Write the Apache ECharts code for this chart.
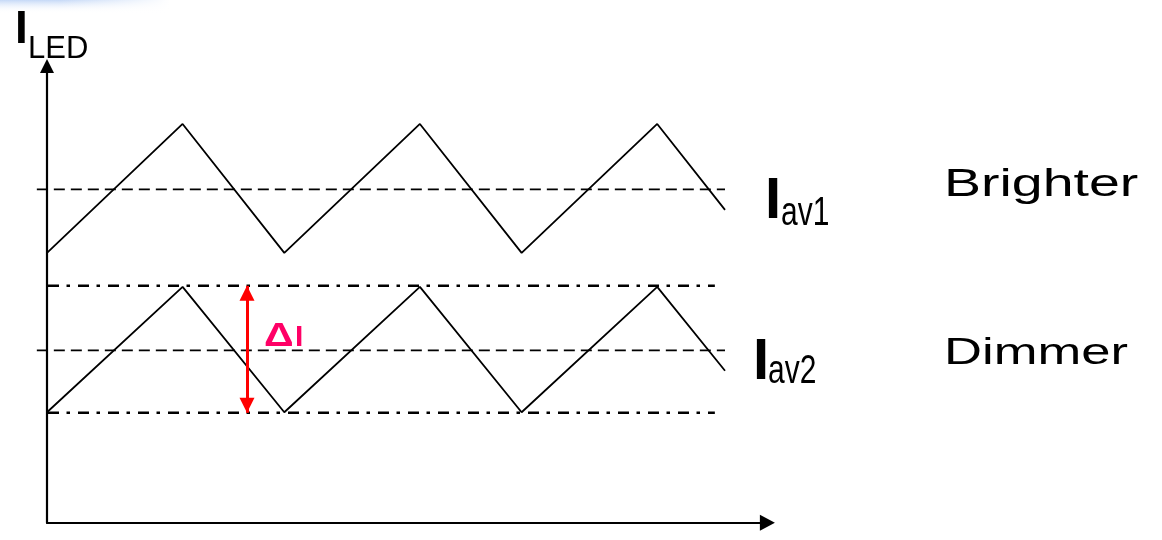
<!DOCTYPE html>
<html lang="en">
<head>
<meta charset="UTF-8">
<title>LED current ripple</title>
<script src="https://cdn.jsdelivr.net/npm/echarts@6/dist/echarts.min.js"></script>
<style>html,body{margin:0;padding:0;background:#fff;}</style>
</head>
<body>
<div id="chart" style="width:1162px;height:540px;"></div>
<script>
// time points of the triangle ripple (rise 4, fall 3)
var waveX = [0, 4, 7, 11, 14, 18, 20];
// LED current for the brighter and the dimmer case
var brightI = [27, 39.9, 27, 39.9, 27, 39.9, 31.3];
var dimI = [11.05, 23.6, 11.05, 23.6, 11.05, 23.6, 15.2];
// average currents Iav1 / Iav2 (dashed)
var avgLevels = [33.35, 17.25];
var avgSpan = [-0.3, 20];
// peak / valley of the dimmer ripple (dash-dot)
var rippleLevels = [23.7, 11];
var rippleSpan = [0.03, 19.7];
// x position of the delta I arrow
var deltaX = 5.9;

function pairs(xs, ys) {
  return xs.map(function (x, i) { return [x, ys[i]]; });
}
function hline(span, level) {
  return [[span[0], level], [span[1], level]];
}
function lineSeries(data, style) {
  return {
    type: 'line', data: data, symbol: 'none', silent: true,
    lineStyle: style, emphasis: {disabled: true}
  };
}
function txt(x, y, text, size, extra, weight, color) {
  var el = {
    type: 'text', x: x, y: y, silent: true,
    style: {
      text: text, fill: color || '#000',
      font: (weight || 'normal') + ' ' + size + 'px "Liberation Sans", Arial, sans-serif',
      align: 'left', verticalAlign: 'middle',
      textAlign: 'left', textVerticalAlign: 'middle'
    }
  };
  for (var k in extra) el[k] = extra[k];
  return el;
}

var chart = echarts.init(document.getElementById('chart'));

var dashed = {color: '#000', width: 1.7, type: [11, 6]};
var dashDot = {color: '#000', width: 2.5, type: [11, 7.5, 3.5, 8]};
var solid = {color: '#000', width: 1.8};
var hidden = {
  axisLine: {show: false}, axisTick: {show: false},
  axisLabel: {show: false}, splitLine: {show: false}
};
function arrowAxis(max, gridIndex, size) {
  return {
    type: 'value', min: 0, max: max, gridIndex: gridIndex,
    axisLine: {show: true, symbol: ['none', 'triangle'], symbolSize: size,
      lineStyle: {color: '#000', width: 2.2}},
    axisTick: {show: false}, axisLabel: {show: false}, splitLine: {show: false}
  };
}

var option = {
  animation: false,
  backgroundColor: '#fff',
  grid: [
    // data grid, reaches a little left of the vertical axis
    {left: 36.83, right: 394.6, top: 66, bottom: 17.3, outerBoundsMode: 'none'},
    // grid that only draws the two arrowed axes
    {left: 47, right: 394.6, top: 66, bottom: 17.3, outerBoundsMode: 'none'}
  ],
  xAxis: [
    Object.assign({type: 'value', min: -0.3, max: 21.25, gridIndex: 0}, hidden),
    arrowAxis(21.25, 1, [16, 15])
  ],
  yAxis: [
    Object.assign({type: 'value', min: 0, max: 45.7, gridIndex: 0}, hidden),
    arrowAxis(45.7, 1, [14, 14])
  ],
  series: [
    lineSeries(hline(avgSpan, avgLevels[0]), dashed),
    lineSeries(hline(avgSpan, avgLevels[1]), dashed),
    lineSeries(hline(rippleSpan, rippleLevels[0]), dashDot),
    lineSeries(hline(rippleSpan, rippleLevels[1]), dashDot),
    lineSeries(pairs(waveX, brightI), solid),
    lineSeries(pairs(waveX, dimI), solid),
    {
      type: 'line', data: [], silent: true,
      markLine: {
        silent: true, animation: false,
        symbol: ['triangle', 'triangle'], symbolSize: [15, 15],
        symbolOffset: [[0, '50%'], [0, '50%']],
        label: {show: false},
        lineStyle: {color: '#ff0000', width: 3, type: 'solid'},
        emphasis: {disabled: true},
        data: [[{coord: [deltaX, rippleLevels[1]]}, {coord: [deltaX, rippleLevels[0]]}]]
      }
    }
  ],
  graphic: [
    {
      type: 'rect', silent: true, shape: {x: 0, y: 0, width: 170, height: 13},
      style: {fill: new echarts.graphic.LinearGradient(0, 0, 0, 1, [
        {offset: 0, color: 'rgba(150,185,240,0.55)'},
        {offset: 1, color: 'rgba(255,255,255,0)'}
      ])}
    },
    {
      type: 'rect', silent: true, shape: {x: 60, y: 0, width: 110, height: 13},
      style: {fill: new echarts.graphic.LinearGradient(0, 0, 1, 0, [
        {offset: 0, color: 'rgba(255,255,255,0)'},
        {offset: 1, color: 'rgba(255,255,255,1)'}
      ])}
    },
    txt(15, 30, 'I', 46, {}, 'bold'),
    txt(28, 49, 'LED', 31),
    txt(765, 202, 'I', 58, {}, 'bold'),
    txt(781, 214, 'av1', 30, {scaleY: 1.33}),
    txt(753, 363, 'I', 58, {}, 'bold'),
    txt(768, 372, 'av2', 30, {scaleY: 1.38}),
    txt(944, 186, 'Brighter', 38, {scaleX: 1.46}),
    txt(944, 354, 'Dimmer', 36, {scaleX: 1.46}),
    txt(264, 337, 'Δ', 33, {scaleX: 1.25}, 'bold', '#ff0066'),
    txt(295, 338, 'I', 30, {}, 'bold', '#ff0066')
  ]
};

chart.setOption(option);
</script>
</body>
</html>
